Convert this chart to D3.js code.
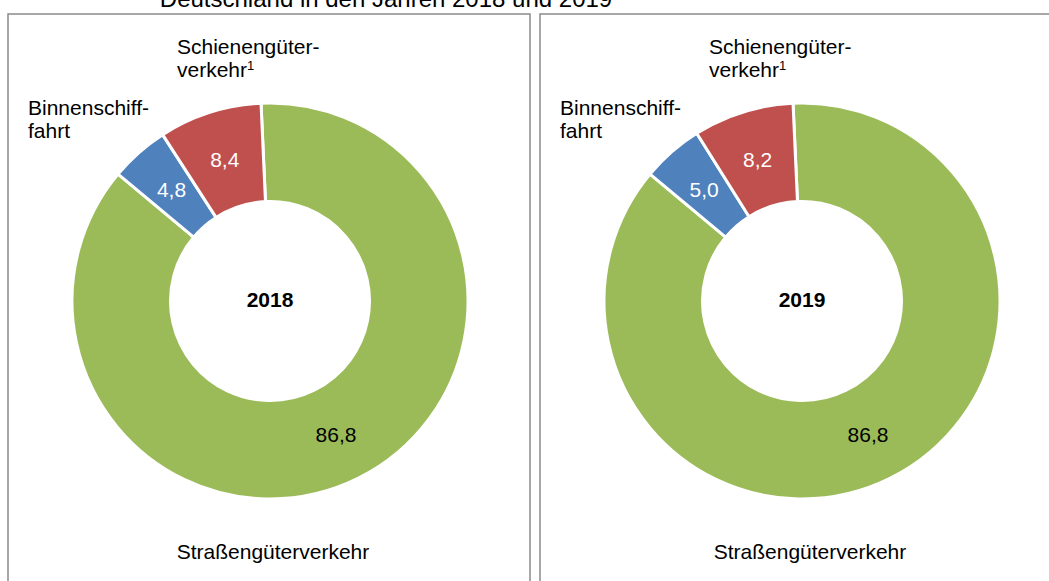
<!DOCTYPE html>
<html><head><meta charset="utf-8">
<script src="https://cdn.jsdelivr.net/npm/d3@7"></script>
<style>
html,body{margin:0;padding:0;background:#fff;}
svg{display:block;font-family:"Liberation Sans",Arial,sans-serif;}
</style></head>
<body>
<svg id="chart" width="1049" height="581"></svg>
<script>
// ---- data ----
const titleText = "Deutschland in den Jahren 2018 und 2019";
const categories = ["Straßengüterverkehr", "Binnenschifffahrt", "Schienengüterverkehr"];
const years = ["2018", "2019"];
const values2018 = [86.8, 4.8, 8.4];
const values2019 = [86.8, 5.0, 8.2];
const colors = ["#9BBB59", "#4F81BD", "#C0504D"];
const labelColors = ["#000000", "#ffffff", "#ffffff"];

// ---- layout ----
const svg = d3.select("#chart");
const W = 1049, H = 581;
const panels = [
  {x0: 8, x1: 530, cx: 270, cy: 301, values: values2018, year: years[0], roadDx: 3},
  {x0: 540, x1: 1064, cx: 802, cy: 301, values: values2019, year: years[1], roadDx: 8}
];
const outerR = 198, innerR = 99.5;
const startA = -2.6 * Math.PI / 180;
const fmt = v => d3.format(".1f")(v).replace(".", ",");

// title (cut off at top)
svg.append("text").attr("x", 386).attr("y", 7).attr("text-anchor", "middle")
  .attr("font-size", 24).attr("fill", "#000").text(titleText);

const pie = d3.pie().sort(null).value(d => d).startAngle(startA).endAngle(startA + 2 * Math.PI);
const arc = d3.arc().innerRadius(innerR).outerRadius(outerR);
const labelArc = d3.arc().innerRadius(101).outerRadius(196.5);

panels.forEach(p => {
  // panel frame
  svg.append("rect").attr("x", p.x0).attr("y", 14).attr("width", p.x1 - p.x0).attr("height", 600)
    .attr("fill", "none").attr("stroke", "#8a8a8a").attr("stroke-width", 1.5);

  const g = svg.append("g").attr("transform", `translate(${p.cx},${p.cy})`);
  const arcs = pie(p.values);
  g.selectAll("path").data(arcs).join("path")
    .attr("d", arc).attr("fill", (d, i) => colors[i])
    .attr("stroke", "#fff").attr("stroke-width", 3).attr("stroke-linejoin", "miter");

  g.selectAll("text.val").data(arcs).join("text").attr("class", "val")
    .attr("transform", d => `translate(${labelArc.centroid(d)})`)
    .attr("text-anchor", "middle").attr("dy", "0.36em")
    .attr("font-size", 21).attr("fill", (d, i) => labelColors[i])
    .text(d => fmt(d.data));

  g.append("text").attr("text-anchor", "middle").attr("y", 5.5)
    .attr("font-size", 21).attr("font-weight", "bold").attr("fill", "#000").text(p.year);

  // outer category labels
  const rail = svg.append("text").attr("font-size", 21).attr("fill", "#000");
  rail.append("tspan").attr("x", p.cx - 93).attr("y", 54).text("Schienengüter-");
  rail.append("tspan").attr("x", p.cx - 93).attr("y", 77).text("verkehr");
  rail.append("tspan").attr("font-size", 13).attr("dy", -7.5).text("1");

  const ship = svg.append("text").attr("font-size", 21).attr("fill", "#000");
  ship.append("tspan").attr("x", p.cx - 242).attr("y", 115).text("Binnenschiff-");
  ship.append("tspan").attr("x", p.cx - 242).attr("y", 138).text("fahrt");

  svg.append("text").attr("x", p.cx + p.roadDx).attr("y", 559).attr("text-anchor", "middle")
    .attr("font-size", 21).attr("fill", "#000").text(categories[0]);
});
</script>
</body></html>
